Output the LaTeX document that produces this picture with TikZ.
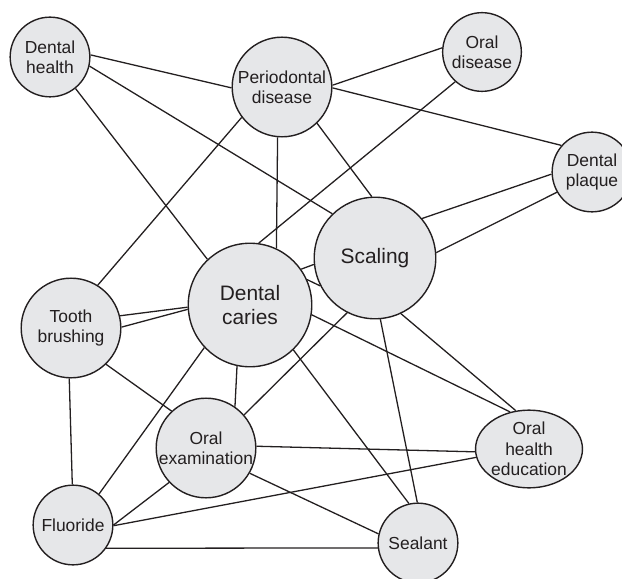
\documentclass[tikz,border=0pt]{standalone}
\usepackage{fontspec}
\setmainfont{Liberation Sans}
\usetikzlibrary{shapes.geometric}
\definecolor{bubble}{RGB}{230,231,233}
\definecolor{ink}{RGB}{35,31,32}
\tikzset{
topic/.style={circle, draw=ink, line width=1.4pt, fill=bubble, text=ink, align=center, inner sep=0pt, font=\fontsize{17.5}{20.5}\selectfont}, % sets the properties for each keyword
main/.style={topic, font=\fontsize{21}{23.5}\selectfont}, % the two biggest keywords
link/.style={draw=ink, line width=1.3pt}, % a line between two keywords
}

\begin{document}
\begin{tikzpicture}[x=1bp, y=-1bp]
\useasboundingbox (0, 0) rectangle (622, 579);

\node[topic, minimum size=80] at (50, 57) (dh) {Dental\\health};
\node[topic, minimum size=100] at (282, 87) (pd) {Periodontal\\disease};
\node[topic, minimum size=79] at (482, 52) (od) {Oral\\disease};
\node[topic, minimum size=80] at (592, 172) (dp) {Dental\\plaque};
\node[main, minimum size=122] at (375, 258) (sc) {Scaling};
\node[main, minimum size=124] at (250, 305) (dc) {Dental\\caries};
\node[topic, minimum size=100] at (71, 328) (tb) {Tooth\\brushing};
\node[topic, minimum size=100] at (206, 448) (oe) {Oral\\examination};
\node[topic, ellipse, minimum width=106, minimum height=78, inner ysep=-12pt] at (529, 449) (ohe) {Oral\\health\\education};
\node[topic, minimum size=80] at (73, 525) (fl) {Fluoride};
\node[topic, minimum size=80] at (418, 543) (se) {Sealant};

\draw[link] (dh.3) -- (pd.181);
\draw[link] (dh.-13) -- (sc.134);
\draw[link] (dh.-51) -- (dc.133);
\draw[link] (pd.2) -- (od.174);
\draw[link] (pd.-1) -- (dp.139);
\draw[link] (pd.217) -- (tb.58);
\draw[link] (pd.265) -- (dc.65);
\draw[link] (pd.-46) -- (sc.93);
\draw[link] (od.228) -- (dc.82);
\draw[link] (dp.183) -- (sc.40);
\draw[link] (dp.210) -- (sc.5);
\draw[link] (dc.35) -- (sc.186);
\draw[link] (dc.24) -- (sc.207);
\draw[link] (tb.14) -- (dc.182);
\draw[link] (tb.1) -- (dc.184);
\draw[link] (tb.-46) -- (oe.133);
\draw[link] (tb.268) -- (fl.91);
\draw[link] (dc.223) -- (fl.50);
\draw[link] (dc.258) -- (oe.55);
\draw[link] (dc.-46) -- (se.103);
\draw[link] (dc.-9) -- (ohe.117);
\draw[link] (sc.243) -- (oe.41);
\draw[link] (sc.275) -- (se.91);
\draw[link] (sc.-65) -- (ohe.109);
\draw[link] (oe.223) -- (fl.0);
\draw[link] (oe.2) -- (ohe.183);
\draw[link] (oe.-30) -- (se.167);
\draw[link] (fl.-1) -- (ohe.189);
\draw[link] (fl.-35) -- (se.187);

\end{tikzpicture}
\end{document}
